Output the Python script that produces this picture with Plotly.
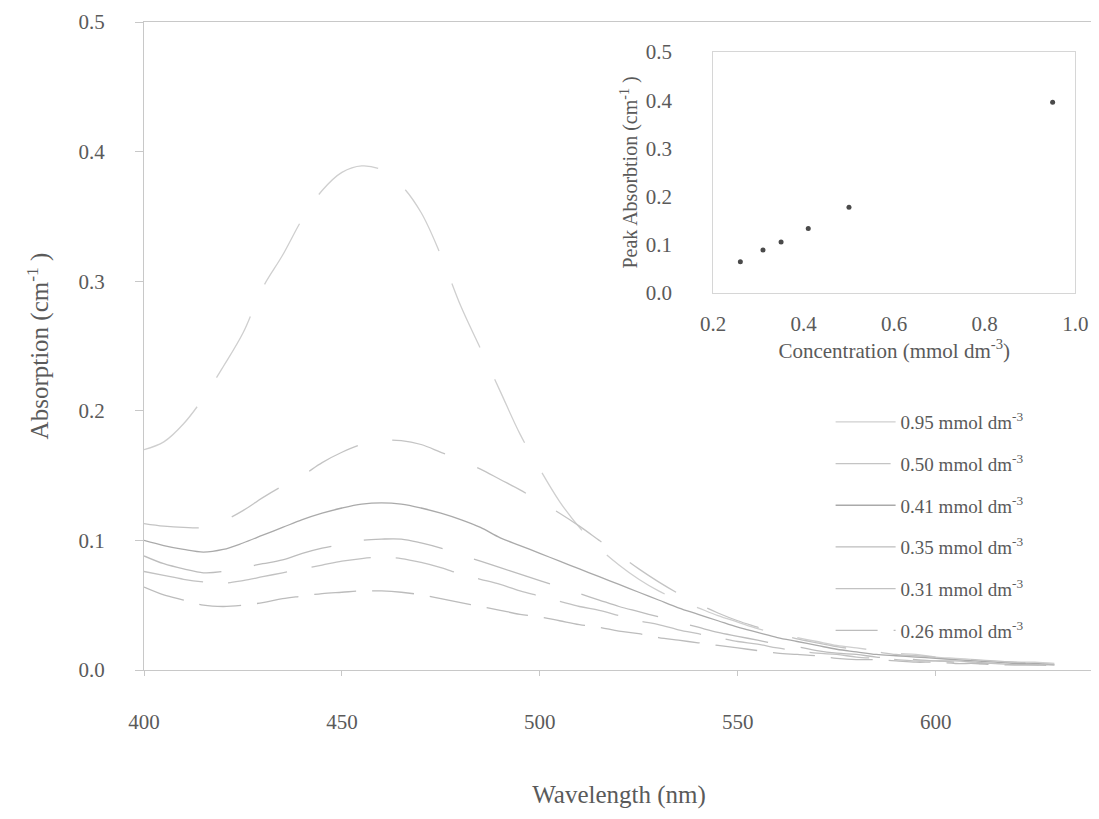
import plotly.graph_objects as go

wavelength = list(range(400, 631, 5))

abs_095 = [0.170, 0.176, 0.190, 0.210, 0.234, 0.260, 0.295, 0.320, 0.348, 0.370,
           0.384, 0.389, 0.386, 0.374, 0.353, 0.320, 0.281, 0.248, 0.215, 0.182,
           0.155, 0.130, 0.110, 0.094, 0.081, 0.070, 0.061, 0.054, 0.048, 0.042,
           0.037, 0.032, 0.028, 0.025, 0.022, 0.019, 0.017, 0.015, 0.013, 0.012,
           0.010, 0.009, 0.008, 0.007, 0.006, 0.006, 0.005]
abs_050 = [0.113, 0.111, 0.110, 0.110, 0.115, 0.123, 0.133, 0.142, 0.150, 0.160,
           0.168, 0.174, 0.177, 0.177, 0.174, 0.168, 0.162, 0.155, 0.147, 0.139,
           0.130, 0.121, 0.111, 0.100, 0.089, 0.078, 0.068, 0.059, 0.051, 0.044,
           0.038, 0.033, 0.028, 0.024, 0.021, 0.018, 0.016, 0.014, 0.012, 0.011,
           0.010, 0.009, 0.008, 0.007, 0.006, 0.005, 0.005]
abs_041 = [0.100, 0.096, 0.093, 0.091, 0.093, 0.098, 0.104, 0.110, 0.116, 0.121,
           0.125, 0.128, 0.129, 0.128, 0.125, 0.121, 0.116, 0.110, 0.102, 0.096,
           0.090, 0.084, 0.078, 0.072, 0.066, 0.060, 0.054, 0.048, 0.043, 0.038,
           0.033, 0.029, 0.025, 0.022, 0.019, 0.016, 0.014, 0.012, 0.011, 0.010,
           0.009, 0.008, 0.007, 0.006, 0.005, 0.005, 0.004]
abs_035 = [0.088, 0.082, 0.078, 0.075, 0.076, 0.079, 0.082, 0.085, 0.090, 0.094,
           0.097, 0.100, 0.101, 0.101, 0.098, 0.094, 0.089, 0.084, 0.079, 0.074,
           0.069, 0.064, 0.059, 0.054, 0.049, 0.045, 0.041, 0.037, 0.033, 0.029,
           0.026, 0.023, 0.020, 0.018, 0.015, 0.013, 0.012, 0.010, 0.009, 0.008,
           0.007, 0.007, 0.006, 0.005, 0.005, 0.004, 0.004]
abs_031 = [0.076, 0.073, 0.070, 0.068, 0.067, 0.069, 0.072, 0.075, 0.078, 0.081,
           0.084, 0.086, 0.087, 0.086, 0.083, 0.079, 0.074, 0.070, 0.066, 0.061,
           0.057, 0.053, 0.049, 0.046, 0.042, 0.038, 0.035, 0.031, 0.028, 0.025,
           0.022, 0.020, 0.017, 0.015, 0.013, 0.012, 0.010, 0.009, 0.008, 0.007,
           0.007, 0.006, 0.005, 0.005, 0.004, 0.004, 0.004]
abs_026 = [0.064, 0.058, 0.054, 0.050, 0.049, 0.050, 0.052, 0.055, 0.057, 0.059,
           0.060, 0.061, 0.061, 0.060, 0.058, 0.055, 0.052, 0.049, 0.046, 0.043,
           0.041, 0.038, 0.035, 0.033, 0.030, 0.028, 0.025, 0.023, 0.021, 0.019,
           0.017, 0.015, 0.013, 0.012, 0.011, 0.009, 0.008, 0.008, 0.007, 0.006,
           0.006, 0.005, 0.005, 0.004, 0.004, 0.004, 0.003]

series_labels = ["0.95 mmol dm<sup>-3</sup>", "0.50 mmol dm<sup>-3</sup>",
                 "0.41 mmol dm<sup>-3</sup>", "0.35 mmol dm<sup>-3</sup>",
                 "0.31 mmol dm<sup>-3</sup>", "0.26 mmol dm<sup>-3</sup>"]
series_values = [abs_095, abs_050, abs_041, abs_035, abs_031, abs_026]
series_dash = ["70px,35px", "55px,35px", "solid", "80px,33px", "60px,25px", "42px,16px"]
series_color = ["#cfcfcf", "#c4c4c4", "#aaaaaa", "#bdbdbd", "#c2c2c2", "#bcbcbc"]

concentration = [0.26, 0.31, 0.35, 0.41, 0.50, 0.95]
peak_absorption = [0.065, 0.089, 0.106, 0.134, 0.178, 0.396]

FONT = "Liberation Serif"
TXT = "#5a5a5a"
AX = "#c8c8c8"

fig = go.Figure()
for i, (lab, vals) in enumerate(zip(series_labels, series_values)):
    fig.add_trace(go.Scatter(
        x=wavelength, y=vals, mode="lines", name=lab,
        line=dict(color=series_color[i], width=1.3, dash=series_dash[i], shape="spline"),
        legendgroup=str(i), xaxis="x", yaxis="y"))

fig.add_trace(go.Scatter(
    x=concentration, y=peak_absorption, mode="markers", showlegend=False,
    marker=dict(color="#4a4a4a", size=5), xaxis="x2", yaxis="y2"))

W, H = 1099, 819
L, T, B = 136, 14, 157
pw = W - L
ph = H - T - B

def px_x(p):
    return (p - L) / pw

def px_y(p):
    return (H - B - p) / ph

fig.update_layout(
    width=W, height=H,
    margin=dict(l=L, r=0, t=T, b=B),
    paper_bgcolor="white", plot_bgcolor="white",
    font=dict(family=FONT, color=TXT, size=20),
    xaxis=dict(range=[400, 640], tickvals=[400, 450, 500, 550, 600],
               showline=True, linecolor=AX, linewidth=1, mirror=True,
               ticks="outside", ticklen=5, tickcolor=AX, showgrid=False, zeroline=False,
               ticklabelstandoff=28,
               tickfont=dict(size=21, family=FONT, color=TXT),
               title=dict(text="Wavelength (nm)", font=dict(size=25, family=FONT, color=TXT),
                          standoff=52)),
    yaxis=dict(range=[0, 0.5], tickvals=[0, 0.1, 0.2, 0.3, 0.4, 0.5], tickformat=".1f",
               showline=True, linecolor=AX, linewidth=1,
               ticks="outside", ticklen=8, tickcolor=AX, showgrid=False, zeroline=False,
               ticklabelstandoff=26,
               tickfont=dict(size=21, family=FONT, color=TXT),
               title=dict(text="Absorption (cm<sup>-1</sup> )",
                          font=dict(size=25, family=FONT, color=TXT), standoff=22)),
    xaxis2=dict(domain=[px_x(713), px_x(1080)], anchor="y2", range=[0.2, 1.0],
                tickvals=[0.2, 0.4, 0.6, 0.8, 1.0], tickformat=".1f",
                showline=True, linecolor="#d6d6d6", mirror=True, ticks="",
                showgrid=False, zeroline=False, ticklabelstandoff=12,
                tickfont=dict(size=21, family=FONT, color=TXT),
                title=dict(text="Concentration (mmol dm<sup>-3</sup>)",
                           font=dict(size=21, family=FONT, color=TXT), standoff=4)),
    yaxis2=dict(domain=[px_y(285), px_y(44)], anchor="x2", range=[0, 0.5],
                tickvals=[0, 0.1, 0.2, 0.3, 0.4, 0.5], tickformat=".1f",
                showline=True, linecolor="#d6d6d6", mirror=True, ticks="",
                showgrid=False, zeroline=False, ticklabelstandoff=36,
                tickfont=dict(size=21, family=FONT, color=TXT),
                title=dict(text="Peak Absorbtion (cm<sup>-1</sup> )",
                           font=dict(size=20, family=FONT, color=TXT), standoff=2)),
    legend=dict(x=px_x(832), y=px_y(395), xanchor="left", yanchor="top",
                bgcolor="rgba(0,0,0,0)", tracegroupgap=14, itemwidth=60,
                font=dict(size=19, family=FONT, color=TXT)),
    showlegend=True,
)

fig.write_html("out.html")
